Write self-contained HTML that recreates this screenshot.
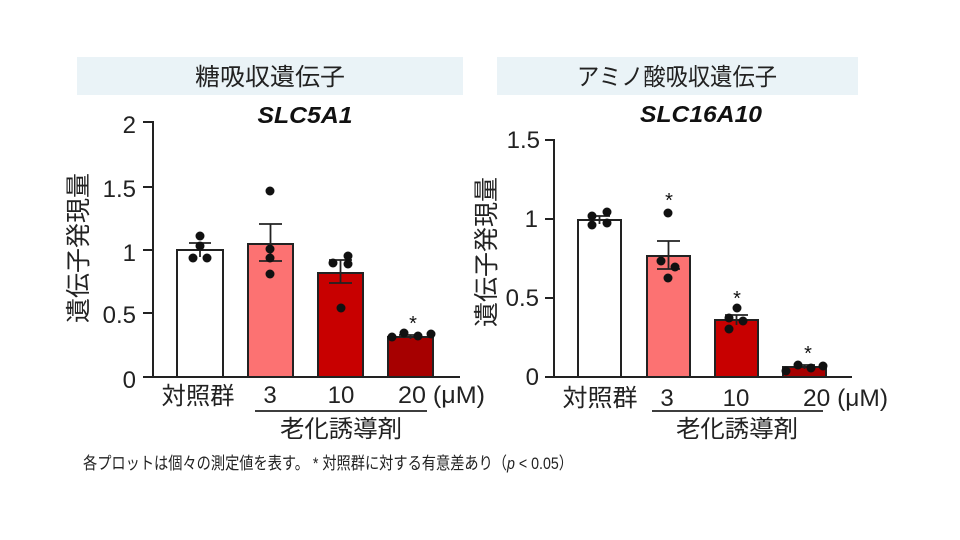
<!DOCTYPE html>
<html><head><meta charset="utf-8"><style>
html,body{margin:0;padding:0;background:#fff;}
svg{display:block;}
.jp{font-family:"Liberation Sans","Noto Sans CJK JP",sans-serif;}
.num{font-family:"Liberation Sans",sans-serif;}
</style></head><body>
<svg width="960" height="540" viewBox="0 0 960 540" xmlns="http://www.w3.org/2000/svg">
<rect width="960" height="540" fill="#fff"/>
<!-- header bands -->
<rect x="77" y="57" width="386" height="38" fill="#eaf3f7"/>
<rect x="497" y="57" width="361" height="38" fill="#eaf3f7"/>
<text class="jp" x="270" y="85" font-size="24" text-anchor="middle" textLength="150" lengthAdjust="spacingAndGlyphs" fill="#222">糖吸収遺伝子</text>
<text class="jp" x="677" y="85" font-size="24" text-anchor="middle" textLength="200" lengthAdjust="spacingAndGlyphs" fill="#222">アミノ酸吸収遺伝子</text>
<text class="num" x="305" y="123" font-size="23" font-weight="bold" font-style="italic" text-anchor="middle" textLength="95" lengthAdjust="spacingAndGlyphs" fill="#111">SLC5A1</text>
<text class="num" x="701" y="122" font-size="23" font-weight="bold" font-style="italic" text-anchor="middle" textLength="122" lengthAdjust="spacingAndGlyphs" fill="#111">SLC16A10</text>

<!-- LEFT CHART -->
<g stroke="#222" stroke-width="2" fill="none">
  <line x1="153" y1="121" x2="153" y2="378"/>
  <line x1="143" y1="377" x2="460" y2="377"/>
  <line x1="143" y1="122" x2="153" y2="122"/>
  <line x1="143" y1="187" x2="153" y2="187"/>
  <line x1="143" y1="250" x2="153" y2="250"/>
  <line x1="143" y1="313" x2="153" y2="313"/>
</g>
<g class="num" font-size="24" text-anchor="end" fill="#222">
  <text x="136" y="133">2</text>
  <text x="136" y="197">1.5</text>
  <text x="136" y="261">1</text>
  <text x="136" y="323">0.5</text>
  <text x="136" y="388">0</text>
</g>
<text class="jp" transform="translate(87,248) rotate(-90)" font-size="25" text-anchor="middle" textLength="150" lengthAdjust="spacingAndGlyphs" fill="#222">遺伝子発現量</text>
<!-- bars -->
<g stroke="#222" stroke-width="2">
  <rect x="177" y="250" width="46" height="127" fill="#ffffff"/>
  <rect x="248" y="244" width="45" height="133" fill="#fc7272"/>
  <rect x="318" y="273" width="45" height="104" fill="#c80000"/>
  <rect x="388" y="337" width="45" height="40" fill="#a60000"/>
</g>
<!-- error bars -->
<g stroke="#222" stroke-width="1.8" fill="none">
  <line x1="200" y1="243" x2="200" y2="257"/><line x1="189" y1="243" x2="211" y2="243"/>
  <line x1="270.5" y1="224" x2="270.5" y2="261"/><line x1="259" y1="224" x2="282" y2="224"/><line x1="259" y1="261" x2="282" y2="261"/>
  <line x1="340.5" y1="260" x2="340.5" y2="283"/><line x1="329" y1="260" x2="352" y2="260"/><line x1="329" y1="283" x2="352" y2="283"/>
  <line x1="410.5" y1="335" x2="410.5" y2="339"/><line x1="399" y1="335" x2="422" y2="335"/>
</g>
<g fill="#111">
  <circle cx="200" cy="236" r="4.5"/><circle cx="200" cy="246" r="4.5"/><circle cx="193" cy="258" r="4.5"/><circle cx="207" cy="258" r="4.5"/>
  <circle cx="270" cy="191" r="4.5"/><circle cx="270" cy="249" r="4.5"/><circle cx="270" cy="258" r="4.5"/><circle cx="270" cy="274" r="4.5"/>
  <circle cx="333" cy="263" r="4.5"/><circle cx="348" cy="256" r="4.5"/><circle cx="348" cy="264" r="4.5"/><circle cx="341" cy="308" r="4.5"/>
  <circle cx="392" cy="337" r="4.5"/><circle cx="404" cy="333" r="4.5"/><circle cx="418" cy="336" r="4.5"/><circle cx="431" cy="334" r="4.5"/>
</g>
<text class="num" x="413" y="330" font-size="20" text-anchor="middle" fill="#111">*</text>
<!-- x labels -->
<text class="jp" x="198" y="404" font-size="24" text-anchor="middle" textLength="73" lengthAdjust="spacingAndGlyphs" fill="#222">対照群</text>
<text class="num" x="270" y="403" font-size="24" text-anchor="middle" fill="#222">3</text>
<text class="num" x="341" y="403" font-size="24" text-anchor="middle" fill="#222">10</text>
<text class="num" x="398" y="403" font-size="24" textLength="87" lengthAdjust="spacingAndGlyphs" fill="#222">20 (μM)</text>
<line x1="255" y1="411" x2="427" y2="411" stroke="#222" stroke-width="1.8"/>
<text class="jp" x="341" y="437" font-size="24" text-anchor="middle" textLength="122" lengthAdjust="spacingAndGlyphs" fill="#222">老化誘導剤</text>

<!-- RIGHT CHART -->
<g stroke="#222" stroke-width="2" fill="none">
  <line x1="554" y1="139" x2="554" y2="378"/>
  <line x1="545" y1="377" x2="852" y2="377"/>
  <line x1="545" y1="140" x2="554" y2="140"/>
  <line x1="545" y1="219" x2="554" y2="219"/>
  <line x1="545" y1="298" x2="554" y2="298"/>
</g>
<g class="num" font-size="24" text-anchor="end" fill="#222">
  <text x="540" y="148">1.5</text>
  <text x="538" y="227">1</text>
  <text x="539" y="306">0.5</text>
  <text x="539" y="385">0</text>
</g>
<text class="jp" transform="translate(495,252) rotate(-90)" font-size="25" text-anchor="middle" textLength="150" lengthAdjust="spacingAndGlyphs" fill="#222">遺伝子発現量</text>
<g stroke="#222" stroke-width="2">
  <rect x="578" y="220" width="43" height="157" fill="#ffffff"/>
  <rect x="647" y="256" width="43" height="121" fill="#fc7272"/>
  <rect x="715" y="320" width="43" height="57" fill="#c80000"/>
  <rect x="783" y="367" width="43" height="10" fill="#a60000"/>
</g>
<g stroke="#222" stroke-width="1.8" fill="none">
  <line x1="599.5" y1="216" x2="599.5" y2="224"/><line x1="589" y1="216" x2="610" y2="216"/>
  <line x1="668.5" y1="241" x2="668.5" y2="269"/><line x1="657" y1="241" x2="680" y2="241"/><line x1="657" y1="269" x2="680" y2="269"/>
  <line x1="736.5" y1="315" x2="736.5" y2="325"/><line x1="725" y1="315" x2="748" y2="315"/>
  <line x1="804.5" y1="365" x2="804.5" y2="369"/><line x1="794" y1="365" x2="815" y2="365"/>
</g>
<g fill="#111">
  <circle cx="592" cy="216" r="4.5"/><circle cx="607" cy="212" r="4.5"/><circle cx="592" cy="225" r="4.5"/><circle cx="607" cy="223" r="4.5"/>
  <circle cx="668" cy="213" r="4.5"/><circle cx="661" cy="261" r="4.5"/><circle cx="675" cy="267" r="4.5"/><circle cx="668" cy="278" r="4.5"/>
  <circle cx="737" cy="308" r="4.5"/><circle cx="729" cy="318" r="4.5"/><circle cx="743" cy="321" r="4.5"/><circle cx="729" cy="329" r="4.5"/>
  <circle cx="786" cy="371" r="4.5"/><circle cx="798" cy="365" r="4.5"/><circle cx="811" cy="368" r="4.5"/><circle cx="823" cy="366" r="4.5"/>
</g>
<g class="num" font-size="20" text-anchor="middle" fill="#111">
  <text x="669" y="207">*</text>
  <text x="737" y="305">*</text>
  <text x="808" y="360">*</text>
</g>
<text class="jp" x="600" y="406" font-size="24" text-anchor="middle" textLength="75" lengthAdjust="spacingAndGlyphs" fill="#222">対照群</text>
<text class="num" x="667" y="406" font-size="24" text-anchor="middle" fill="#222">3</text>
<text class="num" x="736" y="406" font-size="24" text-anchor="middle" fill="#222">10</text>
<text class="num" x="803" y="406" font-size="24" textLength="85" lengthAdjust="spacingAndGlyphs" fill="#222">20 (μM)</text>
<line x1="652" y1="411" x2="823" y2="411" stroke="#222" stroke-width="1.8"/>
<text class="jp" x="737" y="437" font-size="24" text-anchor="middle" textLength="122" lengthAdjust="spacingAndGlyphs" fill="#222">老化誘導剤</text>

<!-- footnote -->
<text class="jp" x="83" y="469" font-size="17" textLength="490" lengthAdjust="spacingAndGlyphs" fill="#222">各プロットは個々の測定値を表す。 * 対照群に対する有意差あり（<tspan font-style="italic">p</tspan> &lt; 0.05）</text>
</svg>
</body></html>
